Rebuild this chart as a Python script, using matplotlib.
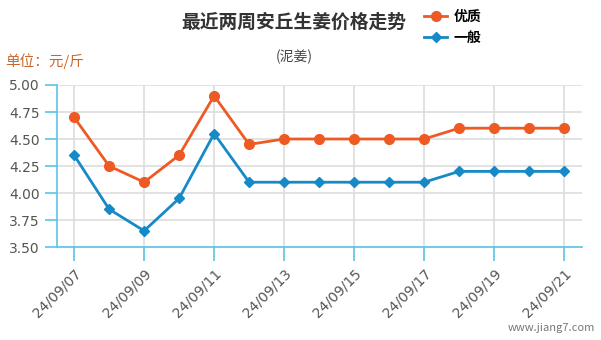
import matplotlib
matplotlib.use("Agg")
from matplotlib import pyplot as plt

plt.rcParams['font.family'] = ['Noto Sans CJK SC', 'DejaVu Sans']

# data
dates = ["24/09/07", "24/09/08", "24/09/09", "24/09/10", "24/09/11", "24/09/12",
         "24/09/13", "24/09/14", "24/09/15", "24/09/16", "24/09/17", "24/09/18",
         "24/09/19", "24/09/20", "24/09/21"]
good = [4.70, 4.25, 4.10, 4.35, 4.90, 4.45, 4.50, 4.50, 4.50, 4.50, 4.50, 4.60, 4.60, 4.60, 4.60]
normal = [4.35, 3.85, 3.65, 3.95, 4.55, 4.10, 4.10, 4.10, 4.10, 4.10, 4.10, 4.20, 4.20, 4.20, 4.20]
yticks = [3.50, 3.75, 4.00, 4.25, 4.50, 4.75, 5.00]

orange = "#ee5a24"
blue = "#168ac6"
axis_blue = "#5bc4e8"

fig = plt.figure(figsize=(6.01, 3.40), dpi=100)
ax = fig.add_axes([0.0948, 0.2735, 0.8735, 0.4765])

x = list(range(len(dates)))
l1, = ax.plot(x, good, color=orange, lw=2, marker="o", ms=7, zorder=3)
l2, = ax.plot(x, normal, color=blue, lw=2, marker="D", ms=5.5, zorder=3)

ax.set_xlim(-0.49, 14.51)
ax.set_ylim(3.5, 5.0)
ax.set_yticks(yticks)
ax.set_yticklabels(["%.2f" % v for v in yticks], color="#555555", fontsize=10,
                   family="DejaVu Sans")
ax.set_xticks(x[::2])
ax.set_xticklabels(dates[::2], rotation=45, ha="right", rotation_mode="anchor",
                   color="#555555", fontsize=10, family="DejaVu Sans")

ax.grid(True, color="#dddddd", lw=1.2, zorder=0)
for s in ["top", "right"]:
    ax.spines[s].set_visible(False)
ax.spines["left"].set_color(axis_blue)
ax.spines["bottom"].set_color(axis_blue)
ax.spines["left"].set_linewidth(1.2)
ax.spines["bottom"].set_linewidth(1.2)
ax.tick_params(axis="x", colors=axis_blue, length=10, width=1.2, labelcolor="#555555", pad=4)
ax.tick_params(axis="y", colors=axis_blue, length=8.5, width=1.2, labelcolor="#555555", pad=4)

fig.text(0.488, 0.935, "最近两周安丘生姜价格走势", ha="center", va="center",
         fontsize=13.5, fontweight="bold", color="#333333")
fig.text(0.49, 0.832, "(泥姜)", ha="center", va="center", fontsize=10, color="#444444")
fig.text(0.008, 0.82, "单位：元/斤", ha="left", va="center", fontsize=10.5, color="#c8662c")

ax.legend([l1, l2], ["优质", "一般"], loc="upper left", bbox_to_anchor=(0.69, 1.0),
          bbox_transform=fig.transFigure, frameon=False,
          handlelength=1.6, handletextpad=0.5, labelspacing=0.5, borderaxespad=0.3,
          prop={"weight": "bold", "size": 10})

fig.text(0.99, 0.035, "www.jiang7.com", ha="right", va="center", fontsize=8, color="#777777")

fig.savefig("out.png", dpi=100)
